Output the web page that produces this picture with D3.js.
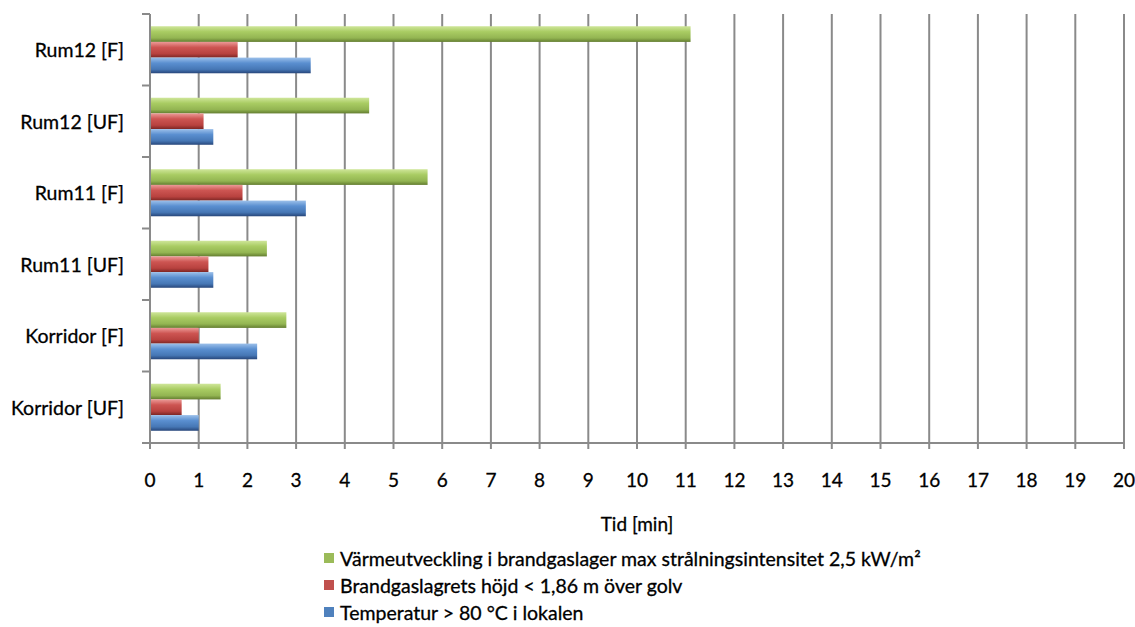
<!DOCTYPE html>
<html>
<head>
<meta charset="utf-8">
<script src="https://cdn.jsdelivr.net/npm/d3@7"></script>
<style>
  html, body { margin: 0; padding: 0; background: #fff; }
  svg text { font-family: Lato, "Open Sans", sans-serif; fill: #000; stroke: #000; stroke-width: 0.3px; }
</style>
</head>
<body>
<svg id="chart" width="1135" height="627"></svg>
<script>
// Categories, top to bottom
const categories = ["Rum12 [F]", "Rum12 [UF]", "Rum11 [F]", "Rum11 [UF]", "Korridor [F]", "Korridor [UF]"];

// Series (time in minutes), in the same order as categories
const seriesNames = [
  "Värmeutveckling i brandgaslager max strålningsintensitet 2,5 kW/m²",
  "Brandgaslagrets höjd < 1,86 m över golv",
  "Temperatur > 80 °C i lokalen"
];
const heatValues = [11.1, 4.5, 5.7, 2.4, 2.8, 1.45];
const layerValues = [1.8, 1.1, 1.9, 1.2, 1.0, 0.65];
const tempValues = [3.3, 1.3, 3.2, 1.3, 2.2, 1.0];
const seriesValues = [heatValues, layerValues, tempValues];

const xTicks = d3.range(0, 21, 1);
const xTitle = "Tid [min]";

// Shading stops for the cylinder-like bars: light top, base, dark bottom
const palettes = [
  ["#cfe69a", "#a9cc63", "#93b552", "#637d30"],
  ["#ec9a97", "#cd5552", "#b8423f", "#7c2624"],
  ["#9cc0ea", "#5a8fd0", "#4677b5", "#27467a"]
];

const svg = d3.select("#chart");
const defs = svg.append("defs");
palettes.forEach((p, i) => {
  const g = defs.append("linearGradient")
    .attr("id", "grad" + i).attr("x1", 0).attr("y1", 0).attr("x2", 0).attr("y2", 1);
  g.append("stop").attr("offset", "0%").attr("stop-color", p[0]);
  g.append("stop").attr("offset", "35%").attr("stop-color", p[1]);
  g.append("stop").attr("offset", "75%").attr("stop-color", p[2]);
  g.append("stop").attr("offset", "100%").attr("stop-color", p[3]);
});

const plot = { left: 150, right: 1124, top: 14, bottom: 443 };

const x = d3.scaleLinear().domain([0, 20]).range([plot.left, plot.right]);
const y0 = d3.scaleBand().domain(categories).range([plot.top, plot.bottom]).padding(0);
const y1 = d3.scaleBand().domain(d3.range(seriesNames.length))
  .range([0, y0.bandwidth()]).paddingInner(0).paddingOuter(0.78);

// Vertical gridlines
svg.append("g")
  .selectAll("line")
  .data(xTicks.filter(d => d > 0))
  .join("line")
  .attr("x1", d => x(d)).attr("x2", d => x(d))
  .attr("y1", plot.top).attr("y2", plot.bottom)
  .attr("stroke", "#8a8a8a").attr("stroke-width", 2);

// Bars
const groups = svg.append("g")
  .selectAll("g")
  .data(categories)
  .join("g")
  .attr("transform", d => `translate(0,${y0(d)})`);

groups.selectAll("rect")
  .data((c, ci) => seriesValues.map((vals, si) => ({ si, v: vals[ci] })))
  .join("rect")
  .attr("x", x(0))
  .attr("y", d => y1(d.si))
  .attr("width", d => x(d.v) - x(0))
  .attr("height", y1.bandwidth())
  .attr("fill", d => `url(#grad${d.si})`);

// Y axis (category axis) with boundary ticks
const yAxisG = svg.append("g");
yAxisG.append("line")
  .attr("x1", plot.left).attr("x2", plot.left)
  .attr("y1", plot.top).attr("y2", plot.bottom)
  .attr("stroke", "#8a8a8a").attr("stroke-width", 2);
yAxisG.selectAll("line.tick")
  .data(categories.map(c => y0(c)).concat([plot.bottom]))
  .join("line").attr("class", "tick")
  .attr("x1", plot.left - 8).attr("x2", plot.left)
  .attr("y1", d => d).attr("y2", d => d)
  .attr("stroke", "#8a8a8a").attr("stroke-width", 2);
yAxisG.selectAll("text")
  .data(categories)
  .join("text")
  .attr("x", 124)
  .attr("y", d => y0(d) + y0.bandwidth() / 2)
  .attr("text-anchor", "end")
  .attr("dominant-baseline", "central")
  .style("font-size", "19.5px")
  .text(d => d);

// X axis
const xAxisG = svg.append("g");
xAxisG.append("line")
  .attr("x1", plot.left - 8).attr("x2", plot.right)
  .attr("y1", plot.bottom).attr("y2", plot.bottom)
  .attr("stroke", "#8a8a8a").attr("stroke-width", 2);
xAxisG.selectAll("line.tick")
  .data(xTicks)
  .join("line").attr("class", "tick")
  .attr("x1", d => x(d)).attr("x2", d => x(d))
  .attr("y1", plot.bottom).attr("y2", plot.bottom + 6)
  .attr("stroke", "#8a8a8a").attr("stroke-width", 2);
xAxisG.selectAll("text")
  .data(xTicks)
  .join("text")
  .attr("x", d => x(d))
  .attr("y", 479)
  .attr("text-anchor", "middle")
  .attr("dominant-baseline", "central")
  .style("font-size", "19px")
  .text(d => d);

// Axis title
svg.append("text")
  .attr("x", (plot.left + plot.right) / 2)
  .attr("y", 523)
  .attr("text-anchor", "middle")
  .attr("dominant-baseline", "central")
  .style("font-size", "19px")
  .text(xTitle);

// Legend
const legendColors = ["#9bbb59", "#c0504d", "#4f81bd"];
const legend = svg.append("g");
const rows = legend.selectAll("g")
  .data(seriesNames)
  .join("g")
  .attr("transform", (d, i) => `translate(324,${558 + i * 27})`);
rows.append("rect")
  .attr("x", 0).attr("y", -5).attr("width", 10).attr("height", 10)
  .attr("fill", (d, i) => legendColors[i]);
rows.append("text")
  .attr("x", 16).attr("y", 0)
  .attr("dominant-baseline", "central")
  .style("font-size", "19.5px")
  .text(d => d);
</script>
</body>
</html>
